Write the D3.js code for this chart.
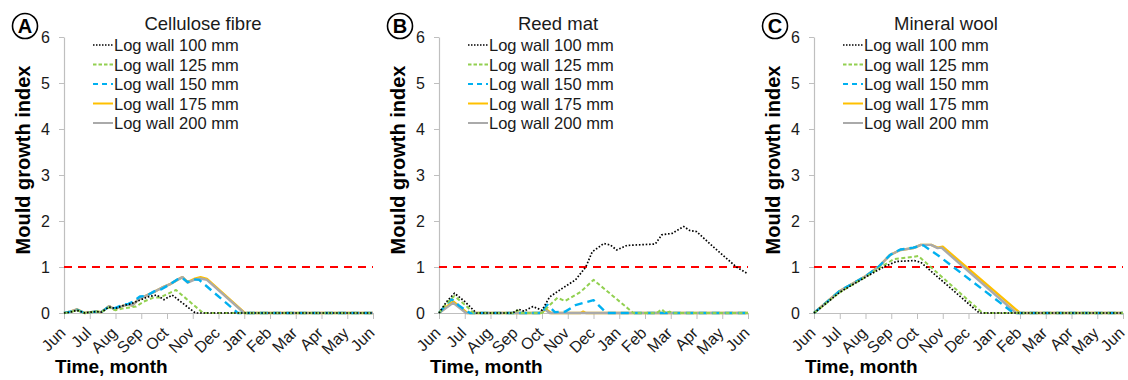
<!DOCTYPE html>
<html>
<head>
<meta charset="utf-8">
<script src="https://cdn.jsdelivr.net/npm/d3@7"></script>
<style>
  html, body { margin: 0; padding: 0; background: #fff; }
  svg { display: block; font-family: "Liberation Sans", Arial, sans-serif; }
</style>
</head>
<body>
<svg id="chart" width="1128" height="380"></svg>
<script>
// month labels, Jun .. Jun
const monthLabels = ["Jun", "Jul", "Aug", "Sep", "Oct", "Nov", "Dec", "Jan", "Feb", "Mar", "Apr", "May", "Jun"];
const yTicks = [0, 1, 2, 3, 4, 5, 6];
const threshold = 1;
const seriesNames = ["Log wall 100 mm", "Log wall 125 mm", "Log wall 150 mm", "Log wall 175 mm", "Log wall 200 mm"];
const panelTitles = ["Cellulose fibre", "Reed mat", "Mineral wool"];
const panelLetters = ["A", "B", "C"];

// [month since June, mould index]
const cellulose100 = [[0,0],[0.25,0.02],[0.5,0.06],[0.8,0],[1.05,0.02],[1.25,0.03],[1.45,0.02],[1.75,0.13],[2.0,0.1],[2.3,0.16],[2.6,0.2],[2.95,0.28],[3.25,0.35],[3.6,0.39],[3.88,0.29],[4.2,0.39],[5.1,0],[12,0]];
const cellulose125 = [[0,0],[0.25,0.02],[0.5,0.06],[0.8,0],[1.05,0.02],[1.25,0.03],[1.45,0.02],[1.75,0.12],[2.0,0.06],[2.3,0.1],[2.55,0.12],[2.8,0.14],[3.1,0.25],[3.45,0.33],[3.75,0.34],[4.0,0.41],[4.35,0.5],[5.4,0],[12,0]];
const cellulose150 = [[0,0],[0.25,0.03],[0.5,0.07],[0.8,0],[1.05,0.02],[1.25,0.03],[1.45,0.02],[1.75,0.14],[1.95,0.1],[2.25,0.17],[2.5,0.2],[2.7,0.25],[2.95,0.36],[3.2,0.37],[3.5,0.47],[3.8,0.52],[4.1,0.62],[4.4,0.73],[4.6,0.76],[4.8,0.67],[5.05,0.73],[5.25,0.72],[6.75,0],[12,0]];
const cellulose175 = [[0,0],[0.25,0.03],[0.5,0.08],[0.8,0],[1.05,0.02],[1.25,0.03],[1.45,0.02],[1.75,0.15],[1.95,0.08],[2.25,0.15],[2.5,0.19],[2.65,0.16],[2.9,0.3],[3.2,0.38],[3.5,0.46],[3.8,0.55],[4.1,0.62],[4.4,0.72],[4.6,0.78],[4.8,0.67],[5.05,0.74],[5.3,0.78],[5.55,0.74],[7.02,0],[12,0]];
const cellulose200 = [[0,0],[0.25,0.03],[0.5,0.08],[0.8,0],[1.05,0.02],[1.25,0.03],[1.45,0.02],[1.75,0.15],[1.95,0.08],[2.25,0.15],[2.5,0.19],[2.65,0.16],[2.9,0.3],[3.2,0.38],[3.5,0.46],[3.8,0.55],[4.1,0.62],[4.4,0.72],[4.6,0.78],[4.8,0.66],[5.05,0.72],[5.3,0.75],[5.55,0.72],[7.0,0],[12,0]];

const reed100 = [[0,0],[0.3,0.25],[0.6,0.43],[1.0,0.25],[1.45,0],[2.85,0],[3.1,0.08],[3.3,0.04],[3.65,0.14],[4.0,0.06],[4.3,0.35],[4.8,0.54],[5.3,0.72],[5.7,1.0],[5.95,1.33],[6.4,1.51],[6.65,1.48],[6.9,1.37],[7.3,1.47],[7.7,1.48],[8.4,1.5],[8.65,1.7],[9.05,1.73],[9.5,1.88],[9.75,1.79],[10.0,1.77],[10.65,1.44],[11.55,1.0],[12,0.85]];
const reed125 = [[0,0],[0.3,0.22],[0.6,0.37],[1.0,0.18],[1.35,0],[2.9,0],[3.05,0.06],[3.2,0],[4.0,0],[4.3,0.17],[4.6,0.33],[4.9,0.26],[5.5,0.46],[6.0,0.72],[7.55,0],[8.45,0],[8.65,0.08],[8.8,0],[8.95,0.03],[9.1,0],[12,0]];
const reed150 = [[0,0],[0.3,0.2],[0.5,0.3],[0.8,0.15],[1.2,0],[4.0,0],[4.2,0.18],[4.5,0.02],[4.9,0.03],[5.3,0.17],[6.0,0.28],[6.5,0],[12,0]];
const reed175 = [[0,0],[0.55,0.25],[1.1,0],[3.95,0],[4.15,0.08],[4.35,0],[5.5,0],[5.6,0.03],[5.7,0],[12,0]];
const reed200 = [[0,0],[0.55,0.22],[1.05,0],[3.9,0],[4.1,0.08],[4.3,0],[12,0]];

const wool100 = [[0,0],[1,0.45],[2,0.78],[2.7,1.0],[3.2,1.12],[3.9,1.14],[4.15,1.1],[6.42,0],[12,0]];
const wool125 = [[0,0],[1,0.45],[2,0.78],[2.6,1.0],[3.1,1.17],[3.85,1.22],[4.05,1.24],[6.55,0],[12,0]];
const wool150 = [[0,0],[1,0.48],[2,0.8],[2.5,1.0],[2.95,1.26],[3.35,1.38],[3.85,1.42],[4.25,1.47],[4.85,1.24],[7.75,0],[12,0]];
const wool175 = [[0,0],[1,0.48],[2,0.8],[2.5,1.0],[2.95,1.26],[3.35,1.37],[3.85,1.41],[4.15,1.48],[4.55,1.48],[4.8,1.42],[5.0,1.44],[8.0,0],[12,0]];
const wool200 = [[0,0],[1,0.48],[2,0.8],[2.5,1.0],[2.95,1.26],[3.35,1.37],[3.85,1.41],[4.15,1.48],[4.55,1.48],[4.8,1.41],[4.95,1.42],[7.85,0],[12,0]];

const panelData = [
    [cellulose100, cellulose125, cellulose150, cellulose175, cellulose200],
    [reed100, reed125, reed150, reed175, reed200],
    [wool100, wool125, wool150, wool175, wool200]
];

const styles = [
    { color: "#000000", width: 1.7, dash: "1.6,1.8", legendDash: "1.5,1.5" },
    { color: "#92d050", width: 2, dash: "4,2.5", legendDash: "3.5,2" },
    { color: "#00b0f0", width: 2.4, dash: "8,5", legendDash: "5,4" },
    { color: "#ffc000", width: 2.4, dash: null, legendDash: null },
    { color: "#aaaaaa", width: 2.4, dash: null, legendDash: null }
];

// orange under grey, then the dashed ones on top
const drawOrder = [3, 4, 2, 1, 0];

const svg = d3.select("#chart");

const axisLeftX = [64, 439, 814];
const titleOffset = [139, 119, 132];
const plotW = 309;
const yTop = 37, yBottom = 313;

const yScale = d3.scaleLinear().domain([0, 6]).range([yBottom, yTop]);

panelData.forEach((series, p) => 
{
    const x0 = axisLeftX[p];
    const xScale = d3.scaleLinear().domain([0, 12]).range([x0, x0 + plotW]);

    const g = svg.append("g");

    // x axis
    const xAxis = g.append("g")
        .attr("transform", `translate(0,${yBottom})`)
        .call(d3.axisBottom(xScale)
            .tickValues(d3.range(monthLabels.length))
            .tickFormat(i => monthLabels[i])
            .tickSizeInner(6)
            .tickSizeOuter(0));

    xAxis.select(".domain").attr("stroke", "#bfbfbf").attr("stroke-width", 1.2);
    xAxis.selectAll(".tick line").attr("stroke", "#bfbfbf");
    xAxis.selectAll(".tick text")
        .attr("font-size", 16)
        .attr("fill", "#1a1a1a")
        .attr("text-anchor", "end")
        .attr("dy", null)
        .attr("y", 0)
        .attr("transform", "translate(2,21) rotate(-45)");

    // y axis
    const yAxis = g.append("g")
        .attr("transform", `translate(${x0},0)`)
        .call(d3.axisLeft(yScale)
            .tickValues(yTicks)
            .tickFormat(d3.format("d"))
            .tickSizeInner(5)
            .tickSizeOuter(0)
            .tickPadding(9));

    yAxis.select(".domain").attr("stroke", "#bfbfbf").attr("stroke-width", 1.2);
    yAxis.selectAll(".tick line").attr("stroke", "#bfbfbf");
    yAxis.selectAll(".tick text")
        .attr("font-size", 16)
        .attr("fill", "#1a1a1a");

    // threshold line
    g.append("line")
        .attr("x1", xScale(0))
        .attr("x2", xScale(12))
        .attr("y1", yScale(threshold))
        .attr("y2", yScale(threshold))
        .attr("stroke", "#ff0000")
        .attr("stroke-width", 2)
        .attr("stroke-dasharray", "8,6");

    const line = d3.line()
        .x(d => xScale(d[0]))
        .y(d => yScale(d[1]));

    drawOrder.forEach(i => 
    {
        const s = styles[i];
        g.append("path")
            .datum(series[i])
            .attr("d", line)
            .attr("fill", "none")
            .attr("stroke", s.color)
            .attr("stroke-width", s.width)
            .attr("stroke-dasharray", s.dash)
            .attr("stroke-linejoin", "round");
    });

    // legend
    const leg = g.append("g").attr("transform", `translate(${x0 + 29},0)`);
    seriesNames.forEach((name, i) => 
    {
        const yy = 45 + i * 19.5;
        const s = styles[i];
        leg.append("line")
            .attr("x1", 0).attr("x2", 20)
            .attr("y1", yy).attr("y2", yy)
            .attr("stroke", s.color)
            .attr("stroke-width", i === 0 ? 1.5 : 2)
            .attr("stroke-dasharray", s.legendDash);
        leg.append("text")
            .attr("x", 21)
            .attr("y", yy + 6)
            .attr("font-size", 16.5)
            .attr("fill", "#1a1a1a")
            .text(name);
    });

    // panel title
    g.append("text")
        .attr("x", x0 + titleOffset[p])
        .attr("y", 30)
        .attr("text-anchor", "middle")
        .attr("font-size", 18.5)
        .attr("fill", "#1a1a1a")
        .text(panelTitles[p]);

    // circled letter
    g.append("circle")
        .attr("cx", x0 - 39)
        .attr("cy", 26)
        .attr("r", 12.5)
        .attr("fill", "none")
        .attr("stroke", "#000")
        .attr("stroke-width", 1.6);
    g.append("text")
        .attr("x", x0 - 39)
        .attr("y", 33)
        .attr("text-anchor", "middle")
        .attr("font-size", 20)
        .attr("font-weight", "bold")
        .text(panelLetters[p]);

    // axis titles
    g.append("text")
        .attr("transform", `translate(${x0 - 34},160) rotate(-90)`)
        .attr("text-anchor", "middle")
        .attr("font-size", 20)
        .attr("font-weight", "bold")
        .text("Mould growth index");

    g.append("text")
        .attr("x", x0 - 9)
        .attr("y", 373)
        .attr("font-size", 19)
        .attr("font-weight", "bold")
        .text("Time, month");
});
</script>
</body>
</html>
